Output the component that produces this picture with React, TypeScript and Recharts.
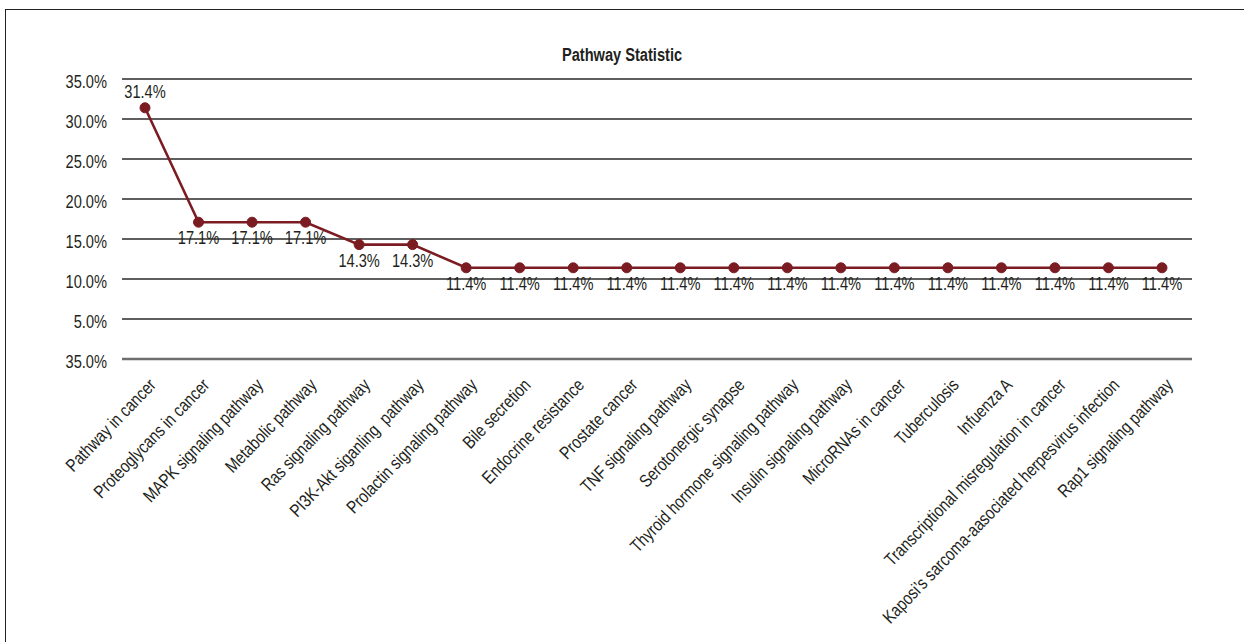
import React from "react";
import { LineChart, Line, XAxis, YAxis, CartesianGrid, LabelList } from "recharts";

const categories = [
  "Pathway in cancer",
  "Proteoglycans in cancer",
  "MAPK signaling pathway",
  "Metabolic pathway",
  "Ras signaling pathway",
  "PI3K-Akt siganling  pathway",
  "Prolactin signaling pathway",
  "Bile secretion",
  "Endocrine resistance",
  "Prostate cancer",
  "TNF signaling pathway",
  "Serotonergic synapse",
  "Thyroid hormone signaling pathway",
  "Insulin signaling pathway",
  "MicroRNAs in cancer",
  "Tuberculosis",
  "Infuenza A",
  "Transcriptional misregulation in cancer",
  "Kaposi\u2019s sarcoma-aasociated herpesvirus infection",
  "Rap1 signaling pathway",
];

const percentages = [
  31.4, 17.1, 17.1, 17.1, 14.3, 14.3, 11.4, 11.4, 11.4, 11.4,
  11.4, 11.4, 11.4, 11.4, 11.4, 11.4, 11.4, 11.4, 11.4, 11.4,
];

const yTicks = [0, 5, 10, 15, 20, 25, 30, 35];
const yTickLabels = ["35.0%", "5.0%", "10.0%", "15.0%", "20.0%", "25.0%", "30.0%", "35.0%"];

const chartTitle = "Pathway Statistic";

const data = categories.map((name, i) => ({ name, value: percentages[i] }));

// Narrow look: Liberation Sans squeezed horizontally
const FONT = "'Liberation Sans', Arial, sans-serif";
const TEXT = "#231f20";
const LINE = "#7b1c22";
const NUM_SQUEEZE = 0.77;
const LABEL_SQUEEZE = 0.82;

const CategoryTick = (props: any) => {
  const { x, y, payload } = props;
  return (
    <g transform={`translate(${x + 12},${y + 27}) rotate(-46) scale(${LABEL_SQUEEZE},1)`}>
      <text
        x={0}
        y={0}
        textAnchor="end"
        fontSize={18}
        fontFamily={FONT}
        fill={TEXT}
        style={{ whiteSpace: "pre" }}
      >
        {payload.value}
      </text>
    </g>
  );
};

const PercentTick = (props: any) => {
  const { x, y, payload } = props;
  const label = yTickLabels[yTicks.indexOf(payload.value)];
  return (
    <g transform={`translate(${x},${y + 9}) scale(${NUM_SQUEEZE},1)`}>
      <text x={0} y={0} textAnchor="end" fontSize={19} fontFamily={FONT} fill={TEXT}>
        {label}
      </text>
    </g>
  );
};

const ValueLabel = (props: any) => {
  const { x, y, value, index } = props;
  const above = index === 0;
  const ty = above ? y - 10 : y + 22;
  return (
    <g transform={`translate(${x},${ty}) scale(${NUM_SQUEEZE},1)`}>
      <text x={0} y={0} textAnchor="middle" fontSize={19} fontFamily={FONT} fill={TEXT}>
        {`${Number(value).toFixed(1)}%`}
      </text>
    </g>
  );
};

export default function App() {
  return (
    <div
      style={{
        position: "absolute",
        left: 0,
        top: 0,
        width: 1244,
        height: 642,
        background: "#fff",
        overflow: "hidden",
      }}
    >
      <div
        style={{
          position: "absolute",
          left: 5,
          top: 9,
          width: 1244,
          height: 642,
          borderTop: "1.5px solid #222",
          borderLeft: "1.5px solid #222",
        }}
      />
      <svg
        width={1244}
        height={80}
        style={{ position: "absolute", left: 0, top: 0 }}
      >
        <g transform={`translate(622,61) scale(0.77,1)`}>
          <text
            x={0}
            y={0}
            textAnchor="middle"
            fontSize={19}
            fontWeight="bold"
            fontFamily={FONT}
            fill={TEXT}
          >
            {chartTitle}
          </text>
        </g>
      </svg>
      <div style={{ position: "absolute", left: 0, top: 0 }}>
        <LineChart
          width={1244}
          height={642}
          data={data}
          margin={{ top: 79, right: 52, bottom: 0, left: 0 }}
        >
          <CartesianGrid vertical={false} stroke="#2a2a2a" strokeWidth={1.3} />
          <XAxis
            dataKey="name"
            interval={0}
            height={283}
            tickSize={0}
            tickMargin={0}
            padding={{ left: 23, right: 30 }}
            axisLine={{ stroke: "#6e6e6e", strokeWidth: 2.5 }}
            tick={<CategoryTick />}
          />
          <YAxis
            width={122}
            domain={[0, 35]}
            ticks={yTicks}
            interval={0}
            axisLine={false}
            tickLine={false}
            tickSize={0}
            tickMargin={15}
            tick={<PercentTick />}
          />
          <Line
            type="linear"
            dataKey="value"
            stroke={LINE}
            strokeWidth={2.6}
            dot={{ r: 5, fill: LINE, stroke: LINE, strokeWidth: 1 }}
            isAnimationActive={false}
          >
            <LabelList dataKey="value" content={<ValueLabel />} />
          </Line>
        </LineChart>
      </div>
    </div>
  );
}
